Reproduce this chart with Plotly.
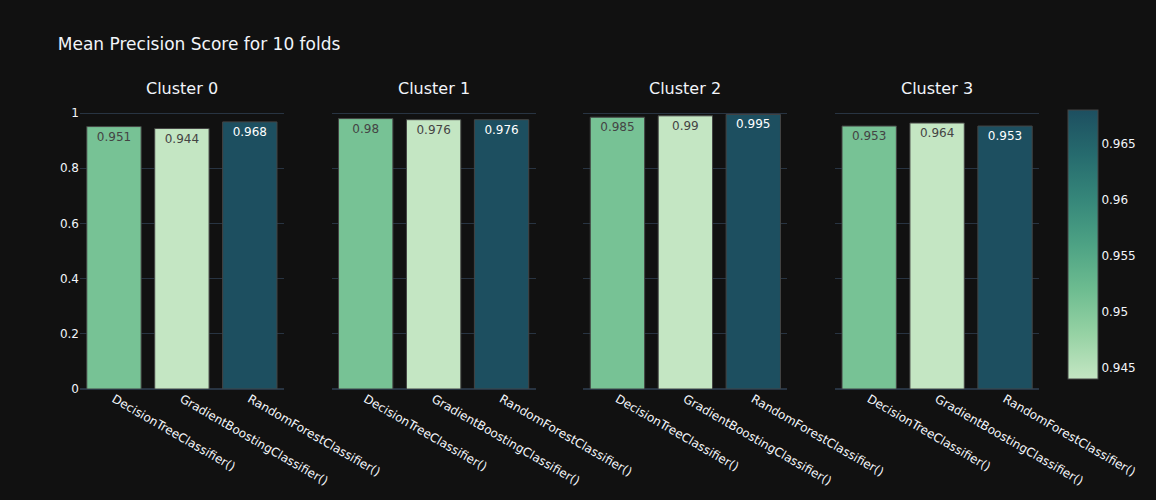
import plotly.graph_objects as go
from plotly.subplots import make_subplots

models = ['DecisionTreeClassifier()', 'GradientBoostingClassifier()', 'RandomForestClassifier()']
clusters = ['Cluster 0', 'Cluster 1', 'Cluster 2', 'Cluster 3']

cluster_0 = [0.951, 0.944, 0.968]
cluster_1 = [0.98, 0.976, 0.976]
cluster_2 = [0.985, 0.99, 0.995]
cluster_3 = [0.953, 0.964, 0.953]

scores = [cluster_0, cluster_1, cluster_2, cluster_3]

fig = make_subplots(rows=1, cols=4, shared_yaxes=True, subplot_titles=clusters)

for i, vals in enumerate(scores):
    fig.add_trace(go.Bar(
        x=models,
        y=vals,
        text=vals,
        textposition='auto',
        marker=dict(
            # colour follows the cluster 0 scores in every panel, like the original
            color=cluster_0,
            colorscale='Blugrn',
            showscale=(i == 0),
            line=dict(color='#444', width=1),
            colorbar=dict(outlinewidth=1, outlinecolor='#444', thickness=30),
        ),
        showlegend=False,
    ), row=1, col=i + 1)

fig.update_layout(
    template='plotly_dark',
    title='Mean Precision Score for 10 folds',
    font=dict(family='Verdana, DejaVu Sans, sans-serif'),
    width=1156,
    height=500,
)

# drop the page margin so the figure sits at the window's corner
fig.write_html("out.html", config={'displayModeBar': False},
               post_script="document.body.style.margin='0';")
